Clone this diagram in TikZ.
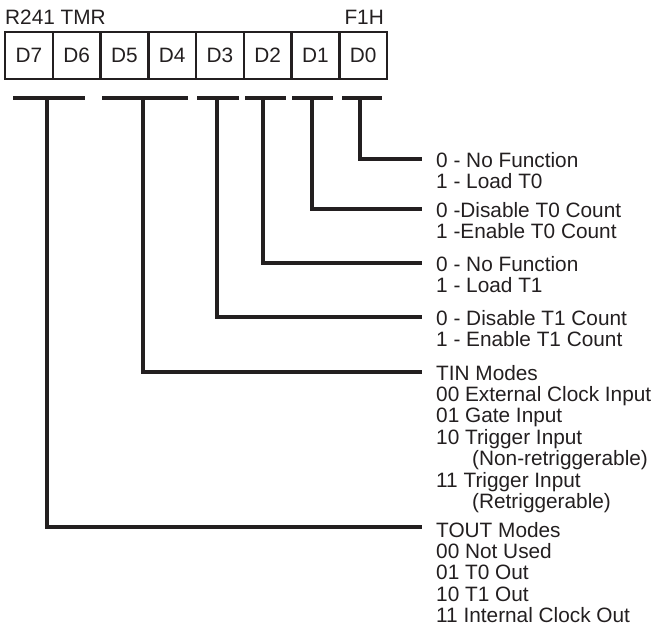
\documentclass[tikz,border=0pt]{standalone}
\usepackage{fontspec}
\setmainfont{Liberation Sans}
\newcommand{\lblfont}{\fontsize{20.8}{21.4}\selectfont}
\definecolor{ink}{HTML}{231F20}
\begin{document}
\begin{tikzpicture}[x=1pt,y=-1pt,
  cell/.style={draw=ink,text=ink,line width=2.5pt,minimum width=47.75pt,minimum height=47pt,inner sep=0pt,font=\lblfont},
  lbl/.style={anchor=base west,inner sep=0pt,text=ink,font=\lblfont},
  ttl/.style={inner sep=0pt,text=ink,font=\lblfont},
  bar/.style={draw=ink,line width=3.5pt},
  conn/.style={draw=ink,line width=3.2pt}]
\useasboundingbox (0,0) rectangle (655,626);
% title
\node[ttl,anchor=base west] (name) at (5,25) {R241 TMR};
\node[ttl,anchor=base east] (addr) at (384,25) {F1H};
% register cells
\foreach \lab [count=\i from 0] in {D7,D6,D5,D4,D3,D2,D1,D0}{
  \node[cell] (c\lab) at ({5+47.75*(\i+0.5)},55.5) {\lab};
}
% bars
\coordinate (b76a) at (13,98);  \coordinate (b76b) at (85,98);
\coordinate (b54a) at (102,98); \coordinate (b54b) at (188,98);
\coordinate (b3a) at (197,98);  \coordinate (b3b) at (239,98);
\coordinate (b2a) at (245,98);  \coordinate (b2b) at (286,98);
\coordinate (b1a) at (292,98);  \coordinate (b1b) at (333,98);
\coordinate (b0a) at (342,98);  \coordinate (b0b) at (382,98);
\draw[bar] (b76a) -- (b76b);
\draw[bar] (b54a) -- (b54b);
\draw[bar] (b3a) -- (b3b);
\draw[bar] (b2a) -- (b2b);
\draw[bar] (b1a) -- (b1b);
\draw[bar] (b0a) -- (b0b);
% connector start points
\coordinate (v76) at (47,98);
\coordinate (v54) at (143,98);
\coordinate (v3) at (217,98);
\coordinate (v2) at (263,98);
\coordinate (v1) at (312,98);
\coordinate (v0) at (360,98);
% connector ends
\coordinate (h0) at (422,159);
\coordinate (h1) at (422,209);
\coordinate (h2) at (422,263);
\coordinate (h3) at (422,317);
\coordinate (h54) at (422,372);
\coordinate (h76) at (422,527);
\draw[conn] (v0) |- (h0);
\draw[conn] (v1) |- (h1);
\draw[conn] (v2) |- (h2);
\draw[conn] (v3) |- (h3);
\draw[conn] (v54) |- (h54);
\draw[conn] (v76) |- (h76);
% labels
\node[lbl] (l0) at (436,167) {\begin{tabular}[t]{@{}l@{}}0 - No Function\\1 - Load T0\end{tabular}};
\node[lbl] (l1) at (436,217) {\begin{tabular}[t]{@{}l@{}}0 -Disable T0 Count\\1 -Enable T0 Count\end{tabular}};
\node[lbl] (l2) at (436,271) {\begin{tabular}[t]{@{}l@{}}0 - No Function\\1 - Load T1\end{tabular}};
\node[lbl] (l3) at (436,325) {\begin{tabular}[t]{@{}l@{}}0 - Disable T1 Count\\1 - Enable T1 Count\end{tabular}};
\node[lbl] (l54) at (436,380) {\begin{tabular}[t]{@{}l@{}}TIN Modes\\00 External Clock Input\\01 Gate Input\\10 Trigger Input\\\hspace*{36pt}(Non-retriggerable)\\11 Trigger Input\\\hspace*{36pt}(Retriggerable)\end{tabular}};
\node[lbl] (l76) at (436,537) {\begin{tabular}[t]{@{}l@{}}TOUT Modes\\00 Not Used\\01 T0 Out\\10 T1 Out\\11 Internal Clock Out\end{tabular}};
\end{tikzpicture}
\end{document}
